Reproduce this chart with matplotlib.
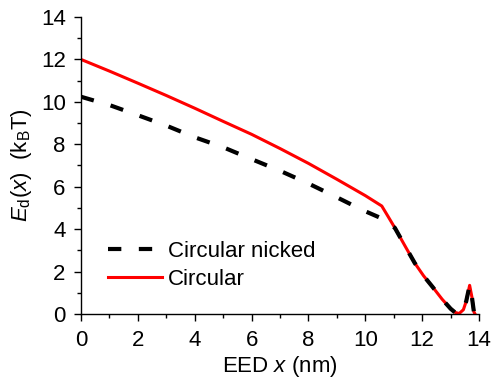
import numpy as np
import matplotlib.pyplot as plt
from matplotlib.ticker import MultipleLocator

plt.rcParams['font.family'] = ['Liberation Sans', 'DejaVu Sans']
plt.rcParams['mathtext.fontset'] = 'custom'
plt.rcParams['mathtext.rm'] = 'Liberation Sans'
plt.rcParams['mathtext.it'] = 'Liberation Sans:italic'

# shared tail of both curves (unfolding region + small peak)
x_tail = [11.04, 11.4, 11.74, 12.05, 12.37, 12.7, 13.0, 13.15, 13.3, 13.45, 13.55, 13.67, 13.75, 13.82, 13.86]
y_tail = [4.06, 3.2, 2.4, 1.8, 1.27, 0.7, 0.25, 0.08, 0.02, 0.2, 0.6, 1.35, 0.8, 0.1, 0.0]

# Circular
x_circ = [0, 1, 2, 3, 4, 5, 6, 7, 8, 9, 10, 10.58, 10.8] + x_tail
y_circ = [12.0, 11.45, 10.88, 10.3, 9.7, 9.08, 8.47, 7.8, 7.1, 6.35, 5.58, 5.09, 4.6] + y_tail

# Circular nicked
x_nick = [0, 1, 2, 3, 4, 5, 6, 7, 8, 9, 9.9, 10.5] + x_tail
y_nick = [10.24, 9.85, 9.37, 8.88, 8.33, 7.86, 7.3, 6.75, 6.15, 5.5, 4.9, 4.55] + y_tail

fig = plt.figure(figsize=(4.92, 3.81), dpi=100)
ax = fig.add_axes([0.1646, 0.1759, 0.809, 0.7795])

l_circ, = ax.plot(x_circ, y_circ, color='#ff0000', lw=2.2, label='Circular')
l_nick, = ax.plot(x_nick, y_nick, color='black', lw=3, dashes=(3.2, 4.2),
                  dash_capstyle='butt', label='Circular nicked')

ax.set_xlim(0, 14)
ax.set_ylim(0, 14)
ax.xaxis.set_major_locator(MultipleLocator(2))
ax.xaxis.set_minor_locator(MultipleLocator(1))
ax.yaxis.set_major_locator(MultipleLocator(2))
ax.yaxis.set_minor_locator(MultipleLocator(1))
ax.tick_params(which='major', direction='out', length=5, width=1, labelsize=16)
ax.tick_params(axis='x', which='major', pad=6.5)
ax.tick_params(axis='y', which='major', pad=6)
ax.tick_params(which='minor', direction='out', length=3, width=1)
for s in ['top', 'right']:
    ax.spines[s].set_visible(False)
for s in ['left', 'bottom']:
    ax.spines[s].set_linewidth(1)

ax.set_xlabel(r'EED $x$ (nm)', fontsize=16, labelpad=2.5)
ax.set_ylabel(r'$E_\mathrm{d}(x)$  (k$_\mathrm{B}$T)', fontsize=16, labelpad=5)

ax.legend(handles=[l_nick, l_circ], loc='upper left', bbox_to_anchor=(0.068, 0.245),
          frameon=False, fontsize=16, handlelength=2.43, handletextpad=0.27,
          labelspacing=0.3, borderpad=0, borderaxespad=0)

fig.savefig('out.png', dpi=100)
